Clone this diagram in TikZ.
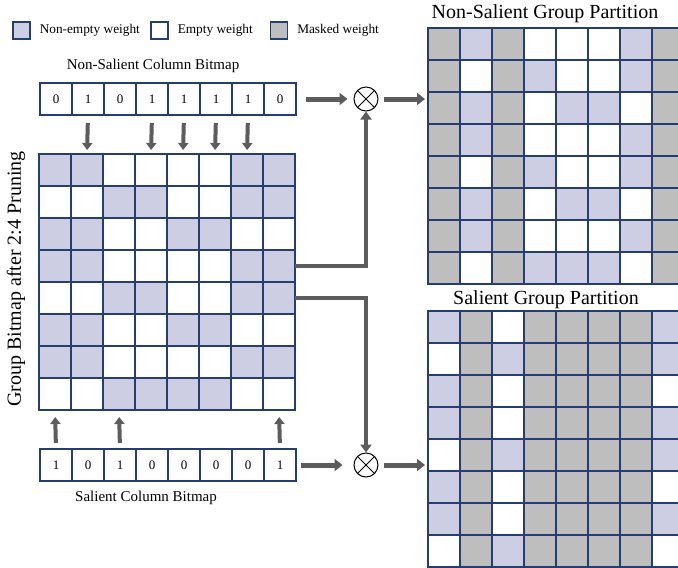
\documentclass[tikz,border=0pt]{standalone}
\usepackage{fontspec}
\setmainfont{Liberation Serif}
\usetikzlibrary{positioning,arrows.meta}

\definecolor{lav}{RGB}{205,205,228}
\definecolor{maskgrey}{RGB}{190,190,190}
\definecolor{gridblue}{RGB}{36,62,112}
\definecolor{arrowgrey}{RGB}{92,92,92}

% 2:4 pruned group bitmap, one row per line
\def\groupbits{{1,1,0,0,0,0,1,1},{0,0,1,1,0,0,1,1},{1,1,0,0,1,1,0,0},{1,1,0,0,0,0,1,1},%
  {0,0,1,1,0,0,1,1},{1,1,0,0,1,1,0,0},{1,1,0,0,0,0,1,1},{0,0,1,1,1,1,0,0}}

\begin{document}
\begin{tikzpicture}[x=1pt, y=-1pt,
    cellbox/.style={draw=gridblue, line width=1.1pt, minimum size=32pt, inner sep=0pt, outer sep=0pt},
    bitcell/.style={cellbox, fill=white, font=\fontsize{13}{15}\selectfont},
    legbox/.style={draw=gridblue, line width=1.1pt, minimum size=17pt, inner sep=0pt},
    legtext/.style={inner sep=0pt, font=\fontsize{13.3}{15}\selectfont},
    bitlabel/.style={font=\fontsize{15}{18}\selectfont},
    title/.style={font=\fontsize{20}{24}\selectfont},
    mul/.style={draw, circle, line width=1pt, minimum size=24pt, inner sep=0pt},
    fatarrow/.style={draw=arrowgrey, line width=5pt, -{Triangle[length=8pt,width=12pt]}},
    linkarrow/.style={draw=arrowgrey, line width=4pt, -{Triangle[length=8pt,width=11pt]}},
    bitarrow/.style={draw=arrowgrey, line width=4pt, -{Triangle[length=7pt,width=10pt]}}]
    \useasboundingbox (0,0) rectangle (678,568);

    % legend
    \node [legbox, fill=lav] (legA) at (21.5,30.5) {};
    \node [legtext, right=9pt of legA] (legAtxt) {Non-empty weight};
    \node [legbox, fill=white] (legB) at (159.5,30.5) {};
    \node [legtext, right=9pt of legB] (legBtxt) {Empty weight};
    \node [legbox, fill=maskgrey] (legC) at (279,30.5) {};
    \node [legtext, right=9pt of legC] (legCtxt) {Masked weight};

    % column bitmaps
    \node [bitlabel] (nsLabel) at (153,66) {Non-Salient Column Bitmap};
    \foreach \b [count=\c] in {0,1,0,1,1,1,1,0}
        \node [bitcell] (ns-\c) at ({40+32*\c-16},99) {\b};
    \node [bitlabel] (sLabel) at (146,498) {Salient Column Bitmap};
    \foreach \b [count=\c] in {1,0,1,0,0,0,0,1}
        \node [bitcell] (s-\c) at ({40+32*\c-16},465) {\b};

    % group bitmap and the two partitions
    \foreach \row [count=\r] in \groupbits {
        \foreach \v [count=\c] in \row {
            \ifnum\v=1 \def\fc{lav}\else\def\fc{white}\fi
            \node [cellbox, fill=\fc] (g-\r-\c) at ({39+32*\c-16},{154+32*\r-16}) {};
            \pgfmathtruncatemacro\mn{{0,1,0,1,1,1,1,0}[\c-1]}
            \ifnum\mn=0 \def\fn{maskgrey}\else\let\fn\fc\fi
            \node [cellbox, fill=\fn] (np-\r-\c) at ({428+32*\c-16},{28+32*\r-16}) {};
            \pgfmathtruncatemacro\ms{{1,0,1,0,0,0,0,1}[\c-1]}
            \ifnum\ms=0 \def\fs{maskgrey}\else\let\fs\fc\fi
            \node [cellbox, fill=\fs] (sp-\r-\c) at ({428+32*\c-16},{311+32*\r-16}) {};
        }
    }
    \node [title, rotate=90] (gLabel) at (16,279) {Group Bitmap after 2:4 Pruning};
    \node [title] (npLabel) at (545,14) {Non-Salient Group Partition};
    \node [title] (spLabel) at (546,300) {Salient Group Partition};

    % bitmap columns that are kept
    \foreach \c in {2,4,5,6,7}
        \draw [bitarrow, shorten <=8pt, shorten >=4pt] (ns-\c.south) -- (g-1-\c.north);
    \foreach \c in {1,3,8}
        \draw [bitarrow, shorten <=6pt, shorten >=7pt] (s-\c.north) -- (g-8-\c.south);

    % element-wise products
    \node [mul] (mulA) at (366,99) {};
    \draw [line width=1pt] (mulA.north east) -- (mulA.south west) (mulA.north west) -- (mulA.south east);
    \node [mul] (mulB) at (366,465) {};
    \draw [line width=1pt] (mulB.north east) -- (mulB.south west) (mulB.north west) -- (mulB.south east);

    \draw [fatarrow, shorten <=10pt, shorten >=6pt] (ns-8.east) -- (mulA.west);
    \draw [fatarrow, shorten <=5pt, shorten >=3pt] (mulA.east) -- (mulA.east -| np-1-1.west);
    \draw [linkarrow] (g-4-8.east) -| (mulA.south);
    \draw [linkarrow] (g-5-8.east) -| (mulB.north);
    \draw [fatarrow, shorten <=5pt, shorten >=11pt] (s-8.east) -- (mulB.west);
    \draw [fatarrow, shorten <=5pt, shorten >=3pt] (mulB.east) -- (mulB.east -| sp-1-1.west);
\end{tikzpicture}
\end{document}
